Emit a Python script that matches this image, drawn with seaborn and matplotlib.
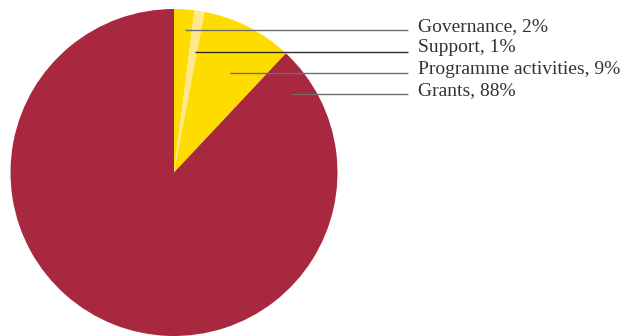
import matplotlib
matplotlib.use("Agg")
import matplotlib.pyplot as plt
import seaborn as sns

# Expenditure breakdown (percent of total), clockwise from 12 o'clock
categories = ["Governance", "Support", "Programme activities", "Grants"]
shares = [2, 1, 9, 88]
slice_colors = ["#FFDC00", "#FFE98C", "#FFDC00", "#A8283F"]
label_texts = [f"{c}, {v}%" for c, v in zip(categories, shares)]

sns.set_theme(style="white")
plt.rcParams["font.family"] = ["Liberation Serif", "DejaVu Serif"]

W, H = 632, 336
fig = plt.figure(figsize=(W / 100, H / 100), dpi=100)
ax = fig.add_axes([0, 0, 1, 1])

cx, cy, r = 174, 172.5, 163.5
palette = sns.color_palette(slice_colors)
# y runs downward here, so start at -90 (top of the screen) and sweep clockwise
ax.pie(
    shares,
    colors=palette,
    startangle=-90,
    counterclock=True,
    center=(cx, cy),
    radius=r,
    frame=True,
    wedgeprops=dict(linewidth=0),
)
ax.set_xlim(0, W)
ax.set_ylim(H, 0)
ax.set_aspect("equal")
ax.axis("off")

# Leader lines and labels
line_y = [30, 51.5, 73, 94]
line_x0 = [185, 195, 230, 292]
line_colors = ["#6f6f6f", "#2b2b2b", "#6f6f6f", "#6f6f6f"]
for y, x0, lc, txt in zip(line_y, line_x0, line_colors, label_texts):
    ax.plot([x0, 408], [y, y], color=lc, lw=1.0, solid_capstyle="butt")
    ax.text(418, y - 3.5, txt, ha="left", va="center", fontsize=14, color="#333333")

fig.savefig("out.png", dpi=100)
